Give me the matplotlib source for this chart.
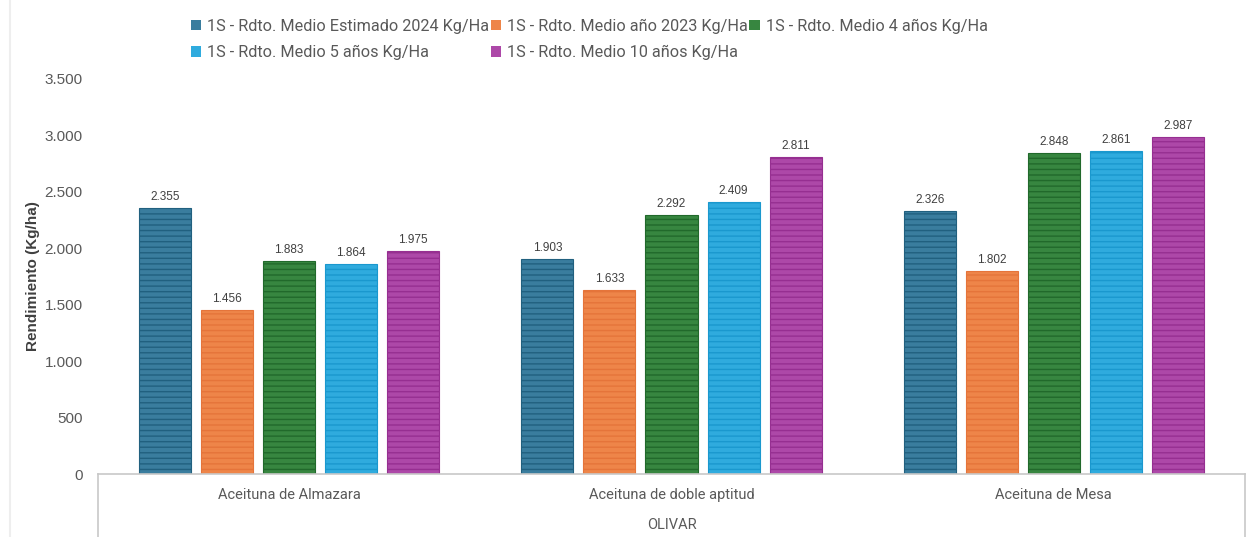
import numpy as np
import matplotlib
matplotlib.use('Agg')
import matplotlib.pyplot as plt
from matplotlib.patches import Patch
from matplotlib.lines import Line2D

# Data
categories = ['Aceituna de Almazara', 'Aceituna de doble aptitud', 'Aceituna de Mesa']
group_label = 'OLIVAR'
series_names = ['1S - Rdto. Medio Estimado 2024 Kg/Ha',
                '1S - Rdto. Medio año 2023 Kg/Ha',
                '1S - Rdto. Medio 4 años Kg/Ha',
                '1S - Rdto. Medio 5 años Kg/Ha',
                '1S - Rdto. Medio 10 años Kg/Ha']
est_2024 = [2355, 1903, 2326]
year_2023 = [1456, 1633, 1802]
avg_4y = [1883, 2292, 2848]
avg_5y = [1864, 2409, 2861]
avg_10y = [1975, 2811, 2987]
series_values = [est_2024, year_2023, avg_4y, avg_5y, avg_10y]

fill_colors = ['#3A7D9E', '#EE8549', '#378640', '#2FABDE', '#AD48A8']
stripe_colors = ['#21607F', '#E5743A', '#21692B', '#1A98CE', '#962F91']

plt.rcParams['hatch.linewidth'] = 1.0

fig = plt.figure(figsize=(12.54, 5.37), dpi=100)
ax = fig.add_axes([98 / 1254, 1 - 474 / 537, (1245 - 98) / 1254, (474 - 79) / 537])

x = np.arange(len(categories))
width = 52 / 382
step = 62 / 382
for i, vals in enumerate(series_values):
    pos = x + (i - 2) * step
    bars = ax.bar(pos, vals, width, color=fill_colors[i], edgecolor=stripe_colors[i],
                  hatch='---', linewidth=0.8, zorder=2)
    for b, v in zip(bars, vals):
        ax.text(b.get_x() + b.get_width() / 2, v + 45, f'{v:,}'.replace(',', '.'),
                ha='center', va='bottom', fontsize=8.5, color='#404040',
                family='Liberation Sans')

ax.set_xlim(-0.5, 2.5)
ax.set_ylim(0, 3500)
yt = np.arange(0, 3501, 500)
ax.set_yticks(yt)
ax.set_yticklabels([f'{v:,}'.replace(',', '.') for v in yt], fontsize=11,
                   color='#595959', family='Liberation Sans')
ax.tick_params(axis='y', length=0, pad=11)
ax.set_xticks([])
for s in ['top', 'right', 'left']:
    ax.spines[s].set_visible(False)
ax.spines['bottom'].set_color('#C8C8C8')
ax.spines['bottom'].set_linewidth(1.2)

ax.set_ylabel('Rendimiento (Kg/ha)', fontsize=11, fontweight='bold', color='#404040',
              family='Liberation Sans', labelpad=3)

# category axis box below the plot
for xv in [0, 1]:
    ax.add_line(Line2D([xv, xv], [0, -63 / 395], transform=ax.transAxes,
                       color='#C8C8C8', lw=1.2, clip_on=False))
for i, c in enumerate(categories):
    ax.text(i, -21 / 395 * 3500, c, ha='center', va='center', fontsize=10.5,
            color='#595959', family='Roboto')
ax.text(0.5, -51 / 395, group_label, transform=ax.transAxes, ha='center', va='center',
        fontsize=10.5, color='#595959', family='Roboto')

# faint chart border on the left
fig.add_artist(Line2D([10 / 1254, 10 / 1254], [0, 1], transform=fig.transFigure,
                      color='#EEEEEE', lw=1.5))

handles = [Patch(facecolor=fill_colors[i], edgecolor='none', label=series_names[i])
           for i in range(5)]
order = [0, 3, 1, 4, 2]
fig.legend([handles[i] for i in order], [series_names[i] for i in order],
           ncol=3, loc='upper left', bbox_to_anchor=(176 / 1254, 1 - 4 / 537),
           frameon=False, handlelength=0.65, handleheight=0.65,
           handletextpad=0.35, columnspacing=0.1, labelspacing=0.7,
           prop={'family': 'Roboto', 'size': 11.7}, labelcolor='#595959')

fig.savefig('out.png', dpi=100)
